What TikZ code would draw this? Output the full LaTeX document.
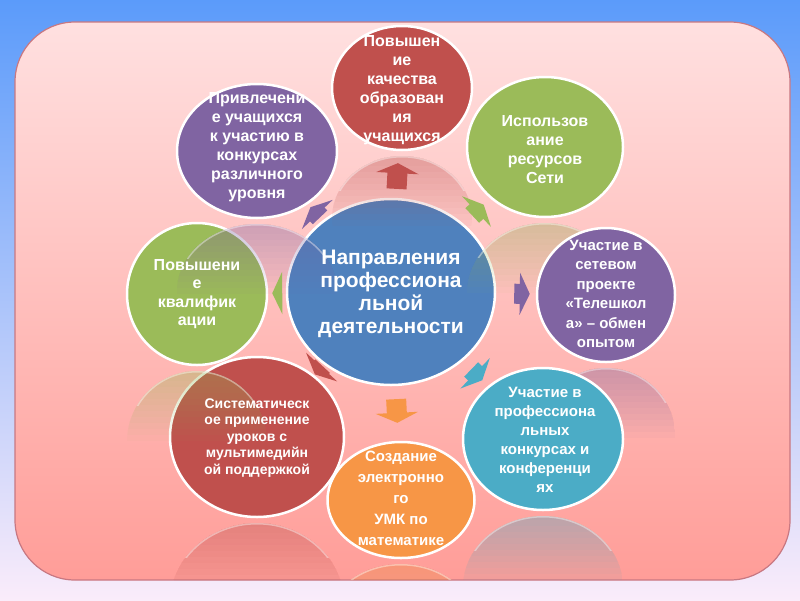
\documentclass[tikz,border=0pt]{standalone}
\usepackage{fontspec}
\setmainfont{Liberation Sans}
\usetikzlibrary{shapes.geometric, arrows.meta}

\definecolor{bgTop}{RGB}{91,155,250}
\definecolor{bgMid}{RGB}{150,185,240}
\definecolor{bgBot}{RGB}{250,236,250}
\definecolor{boxTop}{RGB}{255,224,224}
\definecolor{boxMid}{RGB}{255,190,190}
\definecolor{boxBot}{RGB}{255,157,152}
\definecolor{boxLine}{RGB}{200,120,130}
\definecolor{cBlue}{RGB}{79,129,189}
\definecolor{cRed}{RGB}{192,80,77}
\definecolor{cGreen}{RGB}{155,187,89}
\definecolor{cPurple}{RGB}{128,100,162}
\definecolor{cAqua}{RGB}{75,172,198}
\definecolor{cOrange}{RGB}{247,150,70}

\begin{document}
\begin{tikzpicture}[x=1pt, y=-1pt,
    disc/.style={ellipse, draw=white, line width=2.5pt, inner sep=0pt}, % 圆形节点
    txt/.style={text=white, align=center, inner sep=0pt, font=\bfseries\fontsize{16}{19}\selectfont}, % 白色粗体文字
    blk/.style={line width=20pt, -{Triangle[width=42pt,length=10pt]}} % 粗块状箭头
  ]
    % 1. 背景:蓝色渐变 + 粉色圆角矩形
    \useasboundingbox (0,0) rectangle (800,600);
    \shade [top color=bgTop, middle color=bgMid, bottom color=bgBot] (0,0) rectangle (800,600);
    \shade [rounded corners=60pt, top color=boxTop, middle color=boxMid, bottom color=boxBot,
       draw=boxLine, line width=1.2pt] (15,22) rectangle (790,580);

    % 2. 中心圆 + 八个外圆(每个外圆下方带渐隐倒影)
    \begin{scope}
      \clip [rounded corners=60pt] (15,22) rectangle (790,580);
      \node [disc, fill=cBlue, minimum width=208, minimum height=186] (ctr) at (391,292) {};
      \foreach \nm/\x/\y/\w/\h/\col in {
          q/402/88/140/124/cRed,
          net/545/147/156/140/cGreen,
          prj/606/295/138/134/cPurple,
          cmp/543/439/160/142/cAqua,
          umk/401/500/147/116/cOrange,
          mm/257/437/174/160/cRed,
          kv/197/294/140/142/cGreen,
          prv/257/151/160/134/cPurple} {
        \node [disc, fill=\col, minimum width=\w, minimum height=\h] (\nm) at (\x,\y) {};
        \begin{scope}
          \clip (\x,\y+\h+6) ellipse ({\w/2} and {\h/2});
          \foreach \k in {1,...,12}
            \fill [\col, fill opacity=0.035] (\x-\w/2,\y+\h/2+4) rectangle (\x+\w/2,\y+\h/2+4+\k*6);
          \clip (\x-\w/2,\y+\h/2+4) rectangle (\x+\w/2,\y+\h/2+40);
          \draw [white, draw opacity=0.4, line width=3pt] (\x,\y+\h+6) ellipse ({\w/2} and {\h/2});
        \end{scope}
      }
    \end{scope}

    % 3. 中心圆指向各外圆的箭头
    \foreach \nm/\col/\a/\b in {q/cRed/9/12, net/cGreen/12/9, prj/cPurple/18/6, cmp/cAqua/12/8,
        umk/cOrange/13/18, mm/cRed/2/1, kv/cGreen/4/4, prv/cPurple/4/4}
      \draw [blk, \col, shorten <=\a pt, shorten >=\b pt] (ctr) -- (\nm);

    % 4. 文字
    \node [txt, font=\bfseries\fontsize{21}{23}\selectfont] (tCtr) at (391,294) {Направления\\профессиона\\льной\\деятельности};
    \node [txt] (tQ) at (402,90) {Повышен\\ие\\качества\\образован\\ия\\учащихся};
    \node [txt] (tNet) at (545,150) {Использов\\ание\\ресурсов\\Сети};
    \node [txt, font=\bfseries\fontsize{15}{19.5}\selectfont] (tPrj) at (606,294) {Участие в\\сетевом\\проекте\\«Телешкол\\а» – обмен\\опытом};
    \node [txt, font=\bfseries\fontsize{15}{19}\selectfont] (tCmp) at (545,440) {Участие в\\профессиона\\льных\\конкурсах и\\конференци\\ях};
    \node [txt, font=\bfseries\fontsize{15}{21}\selectfont] (tUmk) at (401,498) {Создание\\электронно\\го\\УМК по\\математике};
    \node [txt, font=\bfseries\fontsize{14}{16.5}\selectfont] (tMm) at (257,438) {Систематическ\\ое применение\\уроков с\\мультимедийн\\ой поддержкой};
    \node [txt, font=\bfseries\fontsize{16}{18.5}\selectfont] (tKv) at (197,294) {Повышени\\е\\квалифик\\ации};
    \node [txt] (tPrv) at (257,147) {Привлечени\\е учащихся\\к участию в\\конкурсах\\различного\\уровня};
\end{tikzpicture}
\end{document}
